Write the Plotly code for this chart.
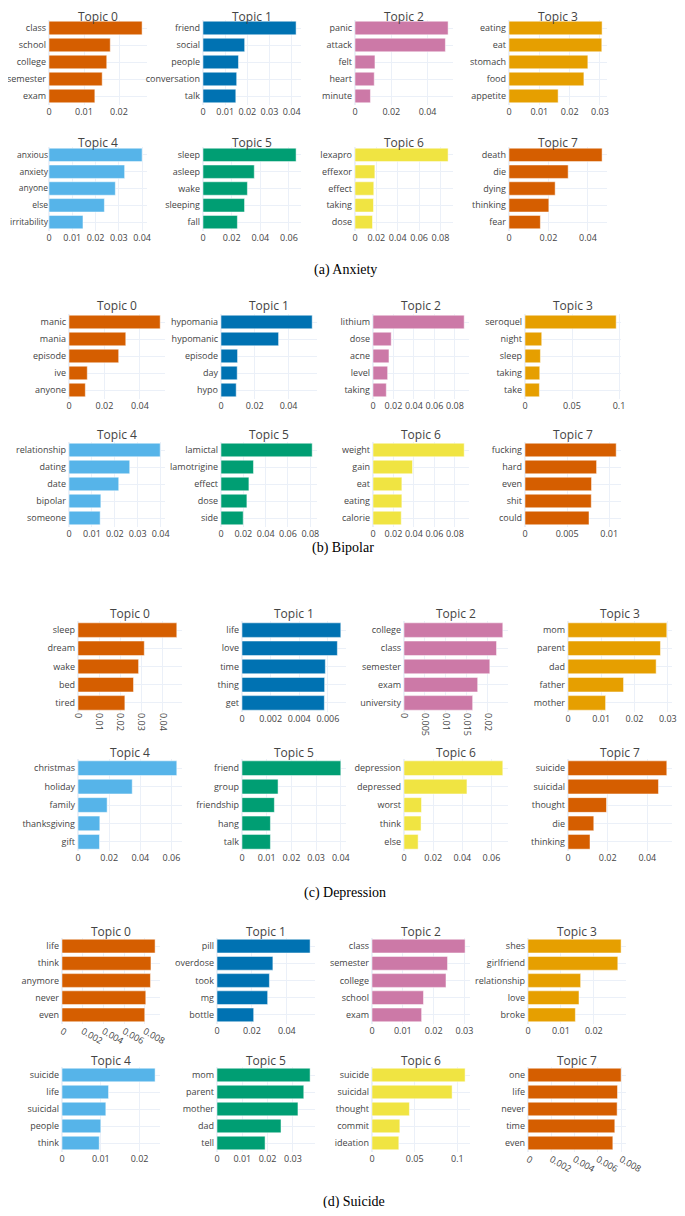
import plotly.graph_objects as go

# the page body has an 8px margin on every side, so the figure is drawn
# 16px smaller than the window and positions are given in page pixels
OFF = 8
W, H = 685 - 2 * OFF, 1216 - 2 * OFF
FONT = "Open Sans"
TEXT_COLOR = "#444444"
COLORS = ["#D55E00", "#0072B2", "#CC79A7", "#E69F00",
          "#56B4E9", "#009E73", "#F0E442", "#D55E00"]

TOPICS = [f"Topic {i}" for i in range(8)]

# (a) Anxiety
ANXIETY_WORDS = [
    ["class", "school", "college", "semester", "exam"],
    ["friend", "social", "people", "conversation", "talk"],
    ["panic", "attack", "felt", "heart", "minute"],
    ["eating", "eat", "stomach", "food", "appetite"],
    ["anxious", "anxiety", "anyone", "else", "irritability"],
    ["sleep", "asleep", "wake", "sleeping", "fall"],
    ["lexapro", "effexor", "effect", "taking", "dose"],
    ["death", "die", "dying", "thinking", "fear"],
]
ANXIETY_SCORES = [
    [0.0266, 0.0175, 0.0165, 0.0152, 0.0131],
    [0.042, 0.0188, 0.016, 0.0152, 0.0148],
    [0.0513, 0.0498, 0.011, 0.0106, 0.0085],
    [0.0307, 0.0306, 0.026, 0.0247, 0.0162],
    [0.040, 0.0325, 0.0285, 0.0238, 0.0146],
    [0.065, 0.0358, 0.031, 0.029, 0.024],
    [0.0872, 0.0186, 0.0176, 0.0173, 0.0164],
    [0.0472, 0.030, 0.0234, 0.0202, 0.0159],
]

# (b) Bipolar
BIPOLAR_WORDS = [
    ["manic", "mania", "episode", "ive", "anyone"],
    ["hypomania", "hypomanic", "episode", "day", "hypo"],
    ["lithium", "dose", "acne", "level", "taking"],
    ["seroquel", "night", "sleep", "taking", "take"],
    ["relationship", "dating", "date", "bipolar", "someone"],
    ["lamictal", "lamotrigine", "effect", "dose", "side"],
    ["weight", "gain", "eat", "eating", "calorie"],
    ["fucking", "hard", "even", "shit", "could"],
]
BIPOLAR_SCORES = [
    [0.0514, 0.032, 0.028, 0.0103, 0.0092],
    [0.054, 0.0341, 0.0098, 0.0096, 0.009],
    [0.0891, 0.0178, 0.0156, 0.0143, 0.013],
    [0.097, 0.0178, 0.0164, 0.0157, 0.0153],
    [0.0398, 0.0265, 0.0217, 0.0139, 0.0136],
    [0.0817, 0.0291, 0.025, 0.0232, 0.0199],
    [0.0891, 0.0386, 0.0282, 0.0282, 0.0276],
    [0.01083, 0.0085, 0.0079, 0.00787, 0.0076],
]

# (c) Depression
DEPRESSION_WORDS = [
    ["sleep", "dream", "wake", "bed", "tired"],
    ["life", "love", "time", "thing", "get"],
    ["college", "class", "semester", "exam", "university"],
    ["mom", "parent", "dad", "father", "mother"],
    ["christmas", "holiday", "family", "thanksgiving", "gift"],
    ["friend", "group", "friendship", "hang", "talk"],
    ["depression", "depressed", "worst", "think", "else"],
    ["suicide", "suicidal", "thought", "die", "thinking"],
]
DEPRESSION_SCORES = [
    [0.0468, 0.0314, 0.0287, 0.0263, 0.0222],
    [0.0069, 0.00666, 0.00582, 0.00577, 0.00575],
    [0.0236, 0.0221, 0.0205, 0.0176, 0.0164],
    [0.0297, 0.0278, 0.0265, 0.0167, 0.0113],
    [0.0634, 0.0348, 0.0187, 0.014, 0.0138],
    [0.040, 0.0146, 0.0131, 0.0115, 0.0115],
    [0.0678, 0.0432, 0.012, 0.0117, 0.0097],
    [0.0498, 0.0456, 0.0194, 0.013, 0.0111],
]

# (d) Suicide
SUICIDE_WORDS = [
    ["life", "think", "anymore", "never", "even"],
    ["pill", "overdose", "took", "mg", "bottle"],
    ["class", "semester", "college", "school", "exam"],
    ["shes", "girlfriend", "relationship", "love", "broke"],
    ["suicide", "life", "suicidal", "people", "think"],
    ["mom", "parent", "mother", "dad", "tell"],
    ["suicide", "suicidal", "thought", "commit", "ideation"],
    ["one", "life", "never", "time", "even"],
]
SUICIDE_SCORES = [
    [0.0090, 0.0086, 0.00855, 0.0081, 0.0080],
    [0.0533, 0.032, 0.030, 0.029, 0.021],
    [0.0302, 0.0245, 0.024, 0.0167, 0.0161],
    [0.0283, 0.0273, 0.016, 0.0155, 0.0144],
    [0.024, 0.012, 0.0113, 0.010, 0.0096],
    [0.0368, 0.0343, 0.032, 0.0253, 0.019],
    [0.109, 0.0938, 0.0438, 0.0326, 0.0314],
    [0.0080, 0.00769, 0.00766, 0.00746, 0.00729],
]

# layout of each panel, in page pixels
PANELS = [
    dict(caption="(a) Anxiety", words=ANXIETY_WORDS, scores=ANXIETY_SCORES,
         cols=[49, 203, 355, 509], width=98,
         rows=[(19.5, 104.5), (146.5, 230.5)], titles_y=(16, 142),
         caption_xy=(345, 270),
         dticks=[0.01, 0.01, 0.02, 0.01, 0.01, 0.02, 0.02, 0.02],
         angles=[0] * 8,
         label_sizes=[9, 9, 9, 9, 8.5, 9, 9, 9]),
    dict(caption="(b) Bipolar", words=BIPOLAR_WORDS, scores=BIPOLAR_SCORES,
         cols=[69, 221, 373, 525], width=96,
         rows=[(313.5, 398.5), (441.5, 526.5)], titles_y=(306, 434),
         caption_xy=(343, 548),
         dticks=[0.02, 0.02, 0.02, 0.05, 0.01, 0.02, 0.02, 0.005],
         angles=[0] * 8,
         label_sizes=[9] * 8),
    dict(caption="(c) Depression", words=DEPRESSION_WORDS, scores=DEPRESSION_SCORES,
         cols=[78, 242, 404, 568], width=104,
         rows=[(621, 712), (759, 851)], titles_y=(613, 752),
         caption_xy=(345, 893),
         dticks=[0.01, 0.002, 0.005, 0.01, 0.02, 0.01, 0.02, 0.02],
         angles=[90, 0, 90, 0, 0, 0, 0, 0],
         label_sizes=[9] * 8),
    dict(caption="(d) Suicide", words=SUICIDE_WORDS, scores=SUICIDE_SCORES,
         cols=[62, 217, 372, 528], width=98,
         rows=[(937.5, 1023.5), (1066.5, 1151.5)], titles_y=(931, 1060),
         caption_xy=(354, 1202),
         dticks=[0.002, 0.02, 0.01, 0.01, 0.01, 0.01, 0.05, 0.002],
         angles=[30, 0, 0, 0, 0, 0, 0, 30],
         label_sizes=[9] * 8),
]


def px_x(x):
    return (x - OFF) / W


def px_y(y):
    return 1 - (y - OFF) / H


def build_figure():
    fig = go.Figure()
    layout = {}
    annotations = []
    n = 0
    for panel in PANELS:
        for t in range(8):
            n += 1
            r, c = divmod(t, 4)
            x0 = panel["cols"][c]
            x1 = x0 + panel["width"]
            y0, y1 = panel["rows"][r]
            suffix = "" if n == 1 else str(n)
            label_size = panel["label_sizes"][t]
            fig.add_trace(go.Bar(
                x=panel["scores"][t],
                y=panel["words"][t],
                orientation="h",
                marker=dict(color=COLORS[t], line=dict(color="white", width=0.5)),
                xaxis="x" + suffix,
                yaxis="y" + suffix,
                showlegend=False,
            ))
            # automargin off: the template would otherwise squeeze the grid
            layout["xaxis" + suffix] = dict(
                domain=[px_x(x0), px_x(x1)],
                anchor="y" + suffix,
                automargin=False,
                dtick=panel["dticks"][t],
                tick0=0,
                tickangle=panel["angles"][t],
                tickfont=dict(size=9, color=TEXT_COLOR),
                gridcolor="#EBF0F8",
                zerolinecolor="#EBF0F8",
                showline=False,
            )
            layout["yaxis" + suffix] = dict(
                domain=[px_y(y1), px_y(y0)],
                anchor="x" + suffix,
                automargin=False,
                autorange="reversed",
                tickfont=dict(size=label_size, color=TEXT_COLOR),
                gridcolor="#EBF0F8",
                ticklabelstandoff=2 if label_size == 9 else 0,
            )
            annotations.append(dict(
                text=TOPICS[t],
                x=px_x((x0 + x1) / 2),
                y=px_y(panel["titles_y"][r]),
                xref="paper", yref="paper",
                xanchor="center", yanchor="middle",
                showarrow=False,
                font=dict(family=FONT, size=12, color=TEXT_COLOR),
            ))
        cx, cy = panel["caption_xy"]
        annotations.append(dict(
            text=panel["caption"],
            x=px_x(cx), y=px_y(cy),
            xref="paper", yref="paper",
            xanchor="center", yanchor="middle",
            showarrow=False,
            font=dict(family="Liberation Serif", size=14, color="black"),
        ))

    fig.update_layout(
        template="plotly_white",
        width=W,
        height=H,
        margin=dict(l=0, r=0, t=0, b=0),
        bargap=0.2,
        font=dict(family=FONT, color=TEXT_COLOR),
        paper_bgcolor="white",
        plot_bgcolor="white",
        annotations=annotations,
        **layout,
    )
    return fig


def main():
    fig = build_figure()
    fig.write_html("out.html")


if __name__ == "__main__":
    main()
